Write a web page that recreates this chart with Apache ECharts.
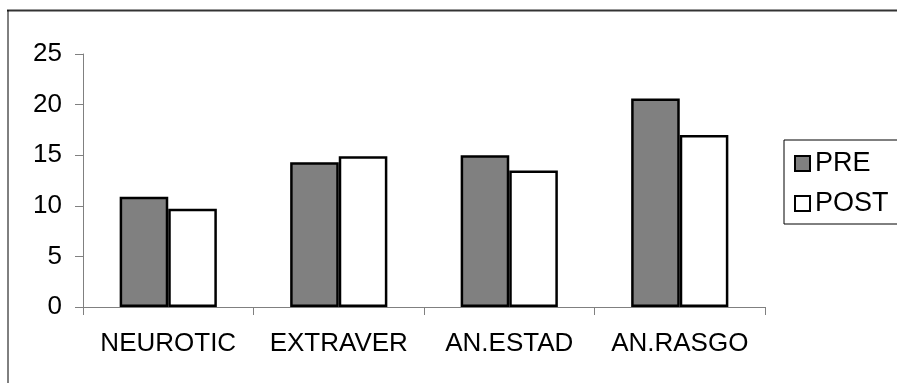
<!DOCTYPE html>
<html>
<head>
<meta charset="utf-8">
<script src="https://cdn.jsdelivr.net/npm/echarts@6/dist/echarts.min.js"></script>
<style>
html,body{margin:0;padding:0;background:#fff;}
#chart{width:897px;height:383px;}
</style>
</head>
<body>
<div id="chart"></div>
<script>
const categories = ['NEUROTIC', 'EXTRAVER', 'AN.ESTAD', 'AN.RASGO'];
const preValues = [10.9, 14.3, 15.0, 20.6];
const postValues = [9.7, 14.9, 13.5, 17.0];
const seriesNames = ['PRE', 'POST'];

const FONT = '"Liberation Sans", Arial, sans-serif';
const chart = echarts.init(document.getElementById('chart'), null, {renderer: 'canvas'});
chart.setOption({
  animation: false,
  backgroundColor: '#fff',
  graphic: [
    {type: 'line', shape: {x1: 7, y1: 10.5, x2: 897, y2: 10.5}, style: {stroke: '#333', lineWidth: 2}},
    {type: 'line', shape: {x1: 8, y1: 10, x2: 8, y2: 383}, style: {stroke: '#000', lineWidth: 1}}
  ],
  grid: {left: 83, right: 132, top: 54, bottom: 76, containLabel: false},
  legend: {
    left: 784, top: 140,
    orient: 'vertical',
    data: seriesNames,
    icon: 'rect',
    itemWidth: 15, itemHeight: 15,
    itemGap: 13,
    padding: [10, 20, 7, 10],
    borderColor: '#000', borderWidth: 1,
    textStyle: {fontFamily: FONT, fontSize: 27, color: '#000'}
  },
  xAxis: {
    type: 'category',
    data: categories,
    boundaryGap: true,
    axisLine: {lineStyle: {color: '#808080', width: 1}},
    axisTick: {show: true, length: 8, alignWithLabel: false, lineStyle: {color: '#808080'}},
    axisLabel: {fontFamily: FONT, fontSize: 26, color: '#000', margin: 24, interval: 0}
  },
  yAxis: {
    type: 'value', min: 0, max: 25, interval: 5,
    axisLine: {show: true, lineStyle: {color: '#808080', width: 1}},
    axisTick: {show: true, length: 8, lineStyle: {color: '#808080'}},
    splitLine: {show: false},
    axisLabel: {fontFamily: FONT, fontSize: 26, color: '#000', margin: 21}
  },
  series: [
    {
      name: seriesNames[0], type: 'bar', data: preValues,
      barGap: '0%', barCategoryGap: '43%',
      itemStyle: {color: '#808080', borderColor: '#000', borderWidth: 2.5}
    },
    {
      name: seriesNames[1], type: 'bar', data: postValues,
      barGap: '0%', barCategoryGap: '43%',
      itemStyle: {color: '#fff', borderColor: '#000', borderWidth: 2.5}
    }
  ]
});
</script>
</body>
</html>
